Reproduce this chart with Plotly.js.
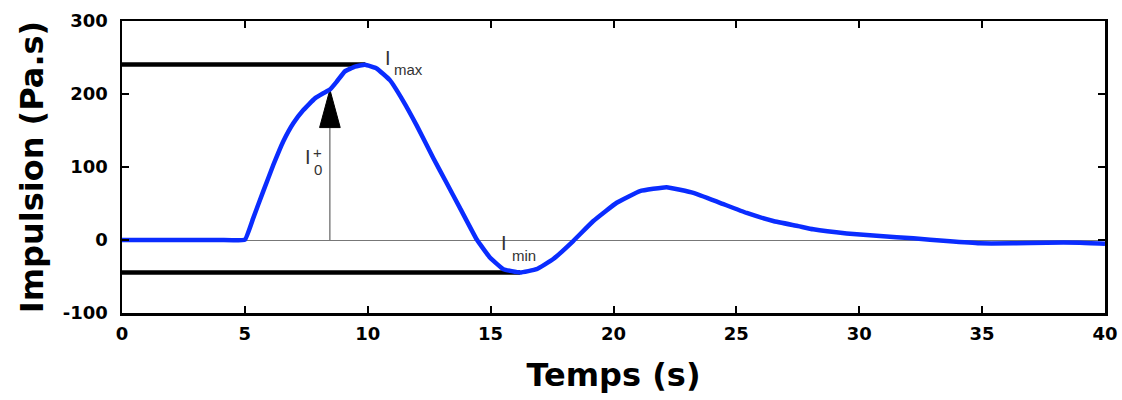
<!DOCTYPE html>
<html>
<head>
<meta charset="utf-8">
<script src="https://cdn.plot.ly/plotly-3.0.1.min.js"></script>
<style>
  html, body { margin: 0; padding: 0; background: #fff; }
  #chart { width: 1122px; height: 400px; }
</style>
</head>
<body>
<div id="chart"></div>
<script>
// Impulse history (time in s, impulse in Pa.s)
const time = [0, 1, 2, 3, 4, 5.0, 5.34, 5.75, 6.16, 6.56, 6.97, 7.38, 7.85, 8.19, 8.46, 8.74, 9.07, 9.48, 9.89, 10.36, 10.9, 11.45, 11.99, 12.67, 13.21, 13.75, 14.43, 14.97, 15.52, 16.2, 16.87, 17.55, 18.36, 19.18, 20.13, 21.08, 22.16, 23.25, 24.33, 25.42, 26.5, 27.52, 28.13, 29.49, 30.84, 32.2, 33.56, 34.9, 36.27, 37.63, 38.98, 40];
const impulse = [0, 0, 0, 0, 0, 0.5, 30, 67, 103, 135, 160, 178, 194, 201, 206, 217, 231, 237.5, 240, 235, 219, 190, 157, 112, 78, 44, 1, -24, -40, -44.6, -40, -26, -1.4, 26, 51, 67, 72.4, 64.6, 51, 37, 26, 19, 14.6, 9, 5.5, 2.3, -1.4, -4.5, -4.5, -3.6, -3.6, -5];

// Characteristic values
const Imax = 240.5;   const tImax = 9.9;
const Imin = -44.6;   const tImin = 16.2;
const I0plus = 206;   const tI0 = 8.46;

const xTicks = [0, 5, 10, 15, 20, 25, 30, 35, 40];
const yTicks = [-100, 0, 100, 200, 300];

// arrow head size, in axis units
const headHalfWidth = 0.42;
const headLength = 52;

const curve = {
  x: time, y: impulse, mode: 'lines', type: 'scatter',
  line: { color: '#0a2cff', width: 4.5, shape: 'spline', smoothing: 0.3 },
  hoverinfo: 'skip', showlegend: false
};
const maxLine = {
  x: [0, tImax], y: [Imax, Imax], mode: 'lines', type: 'scatter',
  line: { color: '#000', width: 4.5 }, hoverinfo: 'skip', showlegend: false, cliponaxis: false
};
const minLine = {
  x: [0, tImin], y: [Imin, Imin], mode: 'lines', type: 'scatter',
  line: { color: '#000', width: 4.5 }, hoverinfo: 'skip', showlegend: false, cliponaxis: false
};
const stem = {
  x: [tI0, tI0], y: [0, I0plus - headLength], mode: 'lines', type: 'scatter',
  line: { color: '#444', width: 1 }, hoverinfo: 'skip', showlegend: false
};
const head = {
  x: [tI0 - headHalfWidth, tI0 + headHalfWidth, tI0, tI0 - headHalfWidth],
  y: [I0plus - headLength, I0plus - headLength, I0plus, I0plus - headLength],
  mode: 'lines', type: 'scatter', fill: 'toself', fillcolor: '#000',
  line: { color: '#000', width: 1 }, hoverinfo: 'skip', showlegend: false
};

const fam = 'Liberation Sans, Arial, sans-serif';
const bigI = { family: fam, size: 20, color: '#333' };
const subTxt = { family: fam, size: 15, color: '#333' };
const tinyTxt = { family: fam, size: 15, color: '#333' };

function label(x, y, text, font, xanchor) {
  return { x: x, y: y, xref: 'x', yref: 'y', text: text, showarrow: false,
           xanchor: xanchor || 'center', yanchor: 'middle', font: font };
}

const layout = {
  width: 1122, height: 400,
  margin: { l: 122, r: 17, t: 21, b: 87 },
  paper_bgcolor: '#fff', plot_bgcolor: '#fff',
  xaxis: {
    range: [0, 40], tickvals: xTicks, ticktext: xTicks.map(String),
    showgrid: false, zeroline: false,
    showline: true, linecolor: '#000', linewidth: 2.5, mirror: 'ticks',
    ticks: 'inside', ticklen: 7, tickwidth: 2, tickcolor: '#000',
    tickfont: { family: 'DejaVu Sans, Arial, sans-serif', size: 18, color: '#000', weight: 'bold' },
    ticklabelstandoff: 3,
    title: { text: 'Temps (s)', standoff: 21,
      font: { family: 'DejaVu Sans, Arial, sans-serif', size: 32, color: '#000', weight: 'bold' } }
  },
  yaxis: {
    range: [-100, 300], tickvals: yTicks, ticktext: yTicks.map(String),
    showgrid: false, zeroline: true, zerolinecolor: '#777', zerolinewidth: 1,
    showline: true, linecolor: '#000', linewidth: 2.5, mirror: 'ticks',
    ticks: 'inside', ticklen: 7, tickwidth: 2, tickcolor: '#000',
    tickfont: { family: 'DejaVu Sans, Arial, sans-serif', size: 18, color: '#000', weight: 'bold' },
    ticklabelstandoff: 8,
    title: { text: 'Impulsion (Pa.s)', standoff: 10,
      font: { family: 'DejaVu Sans, Arial, sans-serif', size: 32, color: '#000', weight: 'bold' } }
  },
  annotations: [
    label(tImax + 0.92, Imax + 9.5, 'I', bigI),
    label(tImax + 1.08, Imax - 7, 'max', subTxt, 'left'),
    label(tI0 - 0.91, 113.5, 'I', bigI),
    label(tI0 - 0.5, 120, '+', tinyTxt),
    label(tI0 - 0.48, 96, '0', tinyTxt),
    label(tImin - 0.66, Imin + 40.5, 'I', bigI),
    label(tImin - 0.41, Imin + 22.8, 'min', subTxt, 'left')
  ]
};

Plotly.newPlot('chart', [minLine, maxLine, stem, head, curve], layout, { staticPlot: true, displayModeBar: false });
</script>
</body>
</html>
